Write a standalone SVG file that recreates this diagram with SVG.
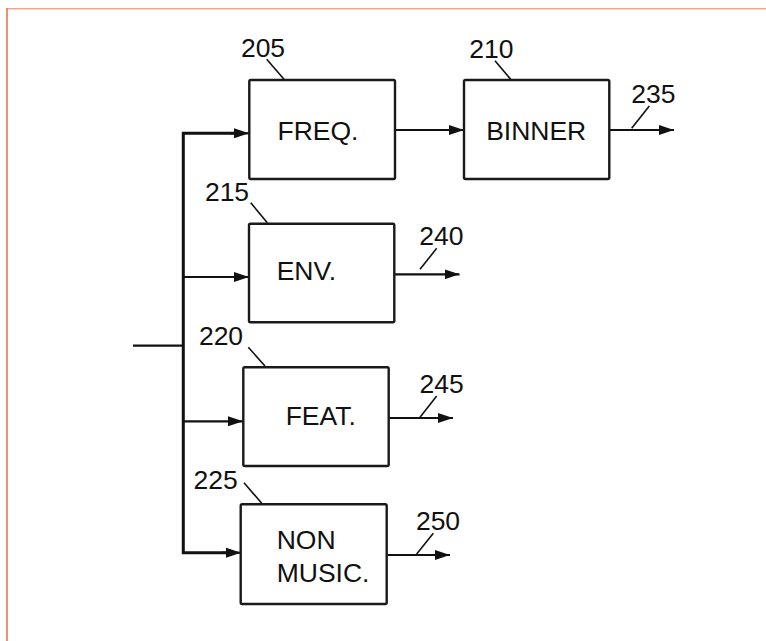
<svg xmlns="http://www.w3.org/2000/svg" width="766" height="641" viewBox="0 0 766 641">
<defs>
<style>
.box{fill:#fff;stroke:#1a1a1a;stroke-width:2.4}
.ln{fill:none;stroke:#111;stroke-width:2.2}
.bus{fill:none;stroke:#111;stroke-width:3}
.ld{fill:none;stroke:#111;stroke-width:1.6}
text{font-family:"Liberation Sans",Arial,sans-serif;font-size:26.5px;fill:#111}
</style>
<marker id="ah" viewBox="0 0 15 10" refX="15" refY="5" markerWidth="15" markerHeight="10" markerUnits="userSpaceOnUse" orient="auto">
<path d="M0,0 L15,5 L0,10 z" fill="#111"/>
</marker>
</defs>
<rect width="766" height="641" fill="#fff"/>
<line x1="7" y1="8.7" x2="766" y2="8.7" stroke="#F4A886" stroke-width="1.6"/>
<line x1="7" y1="8" x2="7" y2="641" stroke="#E07A50" stroke-width="1.6"/>

<g id="connectors">
<line class="ln" x1="133" y1="345.7" x2="183" y2="345.7"/>
<polyline class="bus" points="236,133.3 183.3,133.3 183.3,552.7 228,552.7"/>
<line class="ln" x1="230" y1="133.3" x2="249" y2="133.3" marker-end="url(#ah)"/>
<line class="ln" x1="183" y1="277" x2="249" y2="277" marker-end="url(#ah)"/>
<line class="ln" x1="183" y1="421.3" x2="243" y2="421.3" marker-end="url(#ah)"/>
<line class="ln" x1="222" y1="552.7" x2="241" y2="552.7" marker-end="url(#ah)"/>
<line class="ln" x1="395" y1="130" x2="464" y2="130" marker-end="url(#ah)"/>
<line class="ln" x1="609" y1="130" x2="674" y2="130" marker-end="url(#ah)"/>
<line class="ln" x1="394" y1="274.3" x2="459.5" y2="274.3" marker-end="url(#ah)"/>
<line class="ln" x1="389" y1="418" x2="453" y2="418" marker-end="url(#ah)"/>
<line class="ln" x1="387" y1="555" x2="450" y2="555" marker-end="url(#ah)"/>
</g>

<g id="n205">
<rect class="box" x="249.3" y="80" width="145.7" height="99" rx="1.5"/>
<text x="318" y="140" text-anchor="middle">FREQ.</text>
<text x="263" y="56.7" text-anchor="middle">205</text>
<line class="ld" x1="266.7" y1="59.3" x2="284" y2="79.3"/>
</g>

<g id="n210">
<rect class="box" x="464" y="80" width="145.3" height="99" rx="1.5"/>
<text x="536.2" y="140" text-anchor="middle">BINNER</text>
<text x="491.3" y="58.3" text-anchor="middle">210</text>
<line class="ld" x1="495" y1="60.7" x2="510.7" y2="79.3"/>
</g>

<g id="n235">
<text x="653.3" y="102.7" text-anchor="middle">235</text>
<line class="ld" x1="649.3" y1="106" x2="631.7" y2="128.3"/>
</g>

<g id="n215">
<rect class="box" x="249" y="223.7" width="145.3" height="98.6" rx="1.5"/>
<text x="276.7" y="280">ENV.</text>
<text x="227" y="200.7" text-anchor="middle">215</text>
<line class="ld" x1="250.7" y1="202.7" x2="267.3" y2="222.7"/>
</g>

<g id="n240">
<text x="441.3" y="245" text-anchor="middle">240</text>
<line class="ld" x1="436.7" y1="248.3" x2="420" y2="269.3"/>
</g>

<g id="n220">
<rect class="box" x="243.3" y="367.3" width="145.4" height="98.7" rx="1.5"/>
<text x="285.7" y="425.3">FEAT.</text>
<text x="221" y="345" text-anchor="middle">220</text>
<line class="ld" x1="248.3" y1="347.3" x2="265" y2="366"/>
</g>

<g id="n245">
<text x="441.7" y="392.7" text-anchor="middle">245</text>
<line class="ld" x1="436.7" y1="396" x2="420" y2="417.3"/>
</g>

<g id="n225">
<rect class="box" x="240.7" y="504.3" width="146" height="99.7" rx="1.5"/>
<text x="276.7" y="549.3">NON</text>
<text x="276.7" y="581.7">MUSIC.</text>
<text x="215.7" y="489.3" text-anchor="middle">225</text>
<line class="ld" x1="244" y1="482.7" x2="261.7" y2="503.3"/>
</g>

<g id="n250">
<text x="438" y="530" text-anchor="middle">250</text>
<line class="ld" x1="433.3" y1="533.3" x2="416.7" y2="554"/>
</g>
</svg>
